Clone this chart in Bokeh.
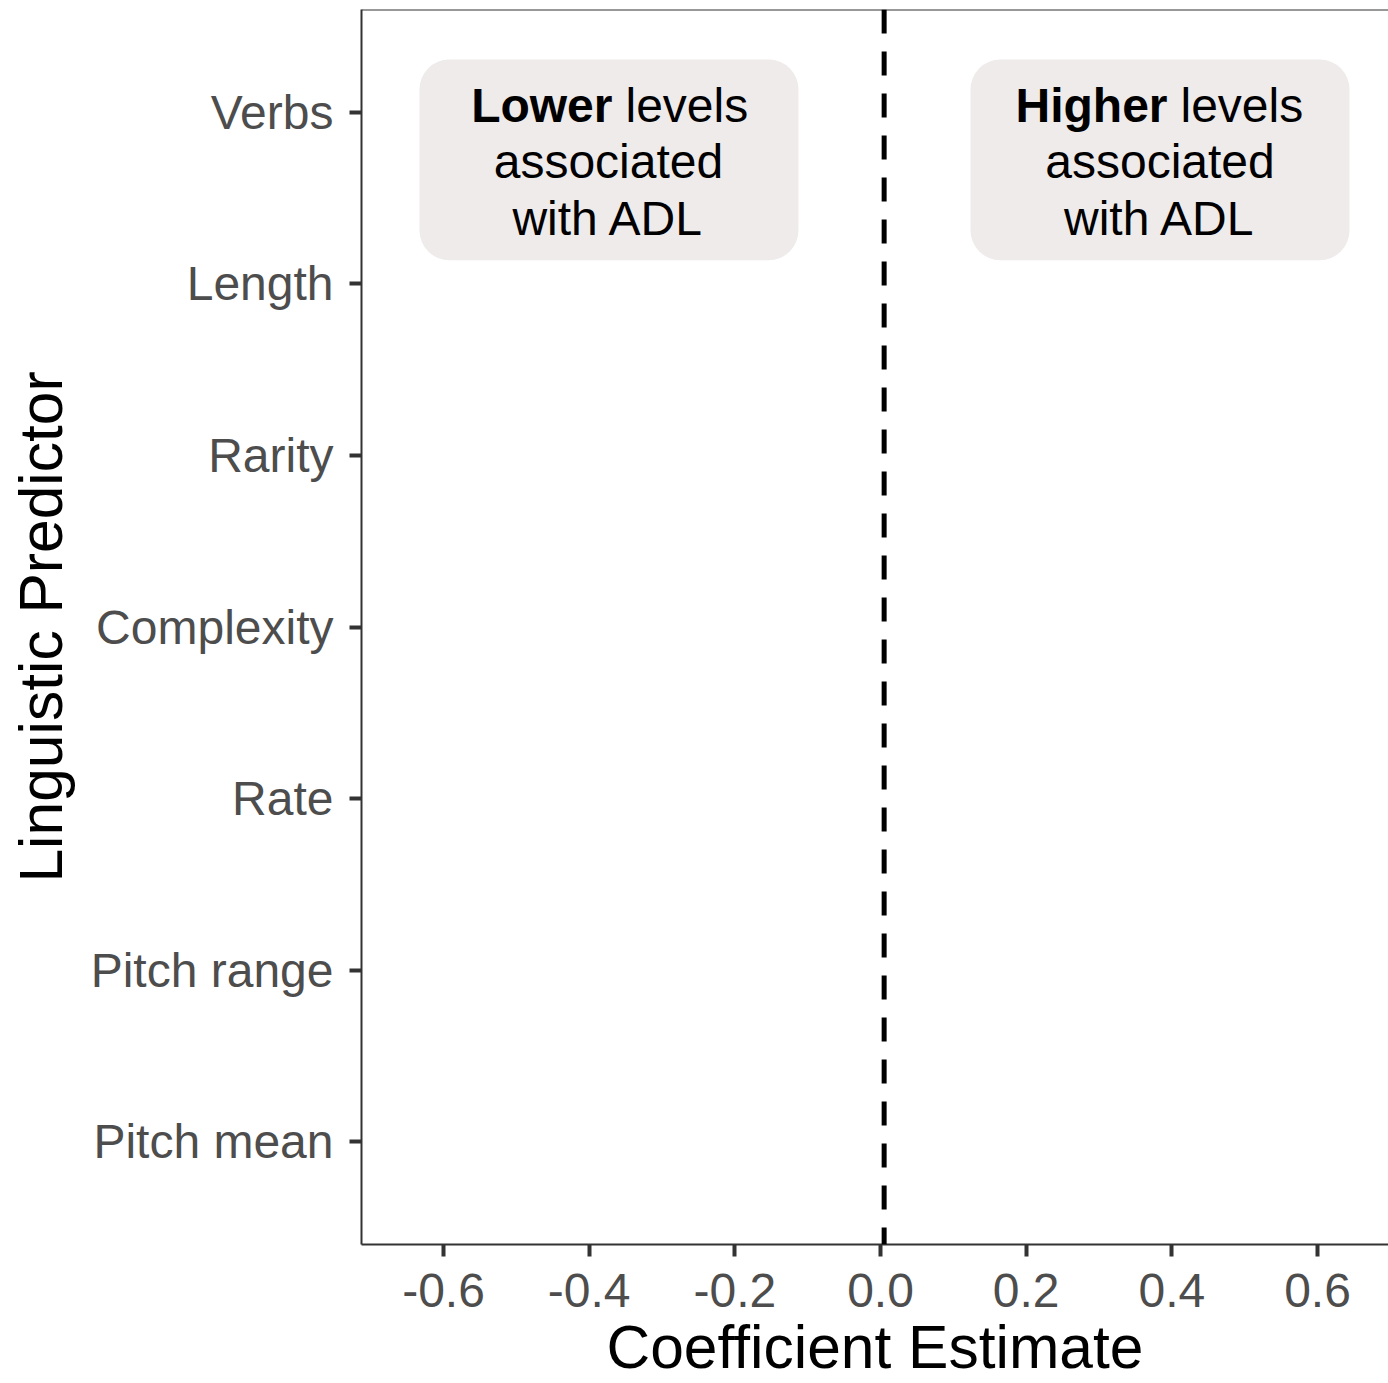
from bokeh.plotting import figure
from bokeh.models import FixedTicker, PrintfTickFormatter, Span, BoxAnnotation, Label, Range1d
from bokeh.embed import file_html
from bokeh.resources import INLINE

# ---- data ----
predictors = ["Pitch mean", "Pitch range", "Rate", "Complexity", "Rarity", "Length", "Verbs"]
y_positions = list(range(1, len(predictors) + 1))
x_ticks = [-0.6, -0.4, -0.2, 0.0, 0.2, 0.4, 0.6]
ref_line = 0.005

x_title = "Coefficient Estimate"
y_title = "Linguistic Predictor"
lower_bold = "Lower"
higher_bold = "Higher"
rest_first = "levels"
line2 = "associated"
line3 = "with ADL"

FONT = "Liberation Sans"

p = figure(width=1388, height=1383, output_backend="svg", toolbar_location=None,
           x_range=Range1d(-0.7126, 0.6975), y_range=Range1d(0.4, 7.6),
           min_border_left=361, min_border_top=9, min_border_right=0, min_border_bottom=138,
           x_axis_label=x_title, y_axis_label=y_title)
p.xgrid.visible = False
p.ygrid.visible = False
p.outline_line_color = None
p.background_fill_color = "white"

p.xaxis.ticker = FixedTicker(ticks=x_ticks)
p.xaxis.formatter = PrintfTickFormatter(format="%.1f")
p.yaxis.ticker = FixedTicker(ticks=y_positions)
p.yaxis.major_label_overrides = {y: name for y, name in zip(y_positions, predictors)}

for ax in (p.xaxis[0], p.yaxis[0]):
    ax.axis_line_color = "#333333"
    ax.axis_line_width = 2
    ax.major_tick_line_color = "#333333"
    ax.major_tick_line_width = 4
    ax.major_tick_out = 12
    ax.major_tick_in = 0
    ax.minor_tick_line_color = None
    ax.major_label_text_font = FONT
    ax.major_label_text_font_size = "48px"
    ax.major_label_text_color = "#4D4D4D"
    ax.axis_label_text_font = FONT
    ax.axis_label_text_font_size = "60.5px"
    ax.axis_label_text_color = "black"
    ax.axis_label_text_font_style = "normal"

p.xaxis.major_label_standoff = 17
p.xaxis.axis_label_standoff = 3
p.yaxis.major_label_standoff = 16
p.yaxis.axis_label_standoff = 13

# top border
p.add_layout(Span(location=7.6, dimension="width", line_color="#333333", line_width=2))

# dashed reference line
p.add_layout(Span(location=ref_line, dimension="height", line_color="black",
                  line_width=5, line_dash="24 18"))

# annotation boxes
for l, r in [(-0.633, -0.1126), (0.1236, 0.644)]:
    p.add_layout(BoxAnnotation(left=l, right=r, top=7.3087, bottom=6.1379,
                               fill_color="#EEEBEA", fill_alpha=1, line_color=None,
                               border_radius=30))

def lab(x, y, text, align, style="normal"):
    p.add_layout(Label(x=x, y=y, text=text, text_font=FONT, text_font_size="48px",
                       text_align=align, text_baseline="middle", text_color="black",
                       text_font_style=style))

for bold, bold_end, rest_start, center in [(lower_bold, -0.368, -0.3501, -0.3735),
                                          (higher_bold, 0.3941, 0.4119, 0.3838)]:
    lab(bold_end, 7.0408, bold, "right", "bold")
    lab(rest_start, 7.0408, rest_first, "left")
    lab(center, 6.7146, line2, "center")
    lab(center, 6.3826, line3, "center")

open("out.html", "w").write(file_html(p, INLINE))
